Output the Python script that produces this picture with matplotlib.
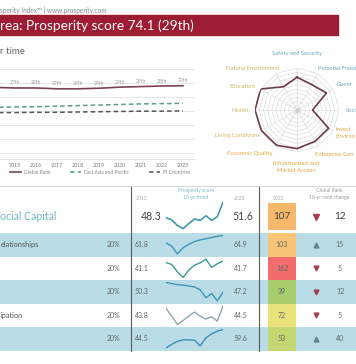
import matplotlib
matplotlib.use('Agg')
import matplotlib.pyplot as plt
import numpy as np
from matplotlib.patches import Rectangle
from matplotlib.colors import LinearSegmentedColormap, Normalize

plt.rcParams['font.family'] = ['Lato', 'DejaVu Sans']

# ---------------- data ----------------
# (texts are shown as they appear in the cropped reference picture)
source_text = "sperity Index\u2122 | www.prosperity.com"
title_text = "rea: Prosperity score 74.1 (29th)"
subtitle_text = "r time"

years = [2014, 2015, 2016, 2017, 2018, 2019, 2020, 2021, 2022, 2023]
year_labels = ["", "2015", "2016", "2017", "2018", "2019", "2020", "2021", "2022", "2023"]
korea_score = [73.5, 73.3, 73.3, 73.0, 73.0, 73.2, 73.6, 73.8, 74.0, 74.1]
korea_rank_labels = ["", "27th", "29th", "29th", "29th", "29th", "29th", "29th", "28th", "29th"]
east_asia = [66.4, 66.5, 66.6, 66.8, 67.0, 67.2, 67.4, 67.6, 67.7, 67.8]
pi_countries = [64.5, 64.5, 64.6, 64.6, 64.7, 64.8, 64.9, 65.0, 65.0, 65.1]
legend_labels = ["Global Rank", "East Asia and Pacific", "PI Countries"]

radar_labels = ["Safety and Security", "Personal Freed", "Gover", "Soci",
                "Invest\nEnviron", "Enterprise Con", "Infrastructure and\nMarket Access",
                "Economic Quality", "Living Conditions", "Health", "Education", "Natural Environment"]
radar_values = [78, 70, 81, 37, 87, 86, 92, 97, 98, 100, 100, 64]

pillar_label = "ocial Capital"
pillar_2013 = 48.3
pillar_2023 = 51.6
pillar_rank = 107
pillar_change = -12
pillar_trend = [48.3, 47.8, 46.6, 45.9, 47.0, 48.0, 47.7, 48.7, 47.7, 48.5, 51.6]

element_labels = ["elationships", "", "", "ipation", ""]
element_weights = ["20%", "20%", "20%", "20%", "20%"]
element_2013 = [61.8, 41.1, 50.3, 43.8, 44.5]
element_2023 = [64.9, 41.7, 47.2, 44.5, 59.6]
element_rank = [103, 162, 39, 72, 53]
element_change = [15, -5, -12, -5, 40]
element_trends = [
    [61.8, 60.5, 57.2, 59.8, 61.2, 62.4, 63.1, 63.6, 64.1, 64.6, 64.9],
    [41.1, 40.3, 37.3, 35.0, 38.0, 40.0, 41.0, 42.5, 39.1, 40.6, 41.7],
    [50.3, 50.0, 49.6, 49.5, 49.2, 48.9, 48.0, 45.4, 46.8, 44.4, 47.2],
    [43.8, 41.5, 39.0, 40.2, 41.5, 42.7, 41.5, 40.6, 41.3, 40.0, 44.5],
    [44.5, 47.4, 49.9, 51.1, 51.1, 50.8, 46.2, 52.8, 56.0, 58.4, 59.6],
]
trend_colors = ['#3f9aa6', '#3e98b5', '#3a9a90', '#3d95b8', '#8aa6aa', '#3d8fb5']

# ---------------- layout helpers ----------------
W, H, DPI = 356, 364, 100
fig = plt.figure(figsize=(W / DPI, H / DPI), dpi=DPI)
fig.patch.set_facecolor('white')


def fx(px):
    return px / W


def fy(py):
    return 1 - py / H


def rect(x0, y0, x1, y1):
    return [fx(x0), fy(y1), (x1 - x0) / W, (y1 - y0) / H]


renderer = fig.canvas.get_renderer()


def fit_width(txt, target_px):
    w = txt.get_window_extent(renderer=renderer).width
    txt.set_fontsize(txt.get_fontsize() * target_px / w)


# header
t0 = fig.text(fx(0.5), fy(10), source_text, ha='left', va='center', fontsize=3.6, color='#8a8a8a')
fit_width(t0, 107)
fig.patches.append(Rectangle((fx(0), fy(35)), fx(338), 20 / H, transform=fig.transFigure,
                             color='#9d1b33', zorder=0))
t1 = fig.text(fx(0.5), fy(25.5), title_text, ha='left', va='center', fontsize=8.6, color='white')
fit_width(t1, 193)
t2 = fig.text(fx(0.5), fy(52), subtitle_text, ha='left', va='center', fontsize=6.5, color='#666666')
fit_width(t2, 25)

# ---------------- line chart ----------------
ax = fig.add_axes(rect(-20, 60, 195, 159))
ax.set_xlim(2013.333, 2023.571)
ax.set_ylim(47.9, 83.3)
ax.set_yticks(np.arange(50, 81, 5))
ax.tick_params(axis='y', length=0, labelleft=False)
ax.grid(axis='y', color='#e4e4e4', lw=0.6)
ax.set_xticks(years)
ax.set_xticklabels(year_labels)
ax.tick_params(axis='x', length=0, labelsize=3.8, labelcolor='#777777', pad=3)
for s in ['left', 'right', 'top']:
    ax.spines[s].set_visible(False)
ax.spines['bottom'].set_color('#dddddd')
ax.spines['bottom'].set_linewidth(0.6)

l1, = ax.plot(years, korea_score, color='#7a4452', lw=1.2)
l2, = ax.plot(years, east_asia, color='#5a9e86', lw=1.1, ls=(0, (3, 2)))
l3, = ax.plot(years, pi_countries, color='#555555', lw=1.1, ls=(0, (3, 2)))
for yr, v, r in zip(years, korea_score, korea_rank_labels):
    if r:
        ax.annotate(r, (yr, v), xytext=(0, 3.6), textcoords='offset points', ha='center',
                    va='center', fontsize=3.6, color='#9a9a9a')
fig.legend([l1, l2, l3], legend_labels, loc='center', bbox_to_anchor=(fx(100), fy(172.5)),
           ncol=3, fontsize=3.6, frameon=False, handlelength=2.2, columnspacing=4.0,
           handletextpad=0.6, labelcolor='#888888')

# ---------------- radar ----------------
axr = fig.add_axes(rect(255, 68, 339, 152), projection='polar')
axr.set_theta_offset(np.pi / 2)
axr.set_theta_direction(-1)
axr.set_ylim(0, 100)
axr.axis('off')
angles = np.arange(len(radar_values)) * 2 * np.pi / len(radar_values)
closed = np.append(angles, angles[0])
for lvl in range(10, 101, 10):
    axr.plot(closed, [lvl] * len(closed), color='#dcdcdc', lw=0.5, zorder=1)
for a in angles:
    axr.plot([a, a], [0, 100], color='#e0e0e0', lw=0.5, zorder=1)
axr.plot(closed, np.append(radar_values, radar_values[0]), color='#6e3a4a', lw=1.2, zorder=3)
axr.plot([0], [0], 'o', ms=2.5, color='#cfcfcf', zorder=2)

blue_lab = '#6aaac2'
orange_lab = '#e3a83e'
olive_lab = '#cdbb62'
radar_label_pos = [
    (297, 53, 'center', blue_lab), (318, 69, 'left', blue_lab), (337, 84, 'left', blue_lab),
    (346, 111, 'left', blue_lab), (336, 133, 'left', orange_lab), (315, 154, 'left', orange_lab),
    (296, 167, 'center', orange_lab), (250, 153, 'center', orange_lab), (260, 136, 'right', olive_lab),
    (249, 111, 'right', olive_lab), (255, 87, 'right', olive_lab), (280, 69, 'right', olive_lab),
]
for lab, (px, py, ha, c) in zip(radar_labels, radar_label_pos):
    fig.text(fx(px), fy(py), lab, ha=ha, va='center', fontsize=4.2, color=c, linespacing=1.4,
             multialignment='center' if ha == 'center' else ha)

# ---------------- table ----------------
axt = fig.add_axes(rect(0, 183, 356, 352))
axt.set_xlim(0, 356)
axt.set_ylim(352, 183)
axt.axis('off')

row_top0, row_h = 233.0, 23.5
cmap = LinearSegmentedColormap.from_list('rank', [
    (0.0, '#7fc06a'), (0.23, '#a8cd6c'), (0.32, '#c5d873'), (0.43, '#ebe37c'),
    (0.62, '#f8c477'), (0.64, '#f7b86c'), (0.97, '#f26d6d'), (1.0, '#f06060')])
norm = Normalize(1, 167)

axt.axhline(185.5, color='#d0d0d0', lw=0.6)
for i in range(len(element_labels)):
    top = row_top0 + i * row_h
    if i % 2 == 0:
        axt.add_patch(Rectangle((0, top), 356, row_h, color='#b9dce6', zorder=0, lw=0))
    axt.add_patch(Rectangle((268, top), 28, row_h, color=cmap(norm(element_rank[i])), zorder=1, lw=0))
axt.add_patch(Rectangle((268, 203), 28, 26.5, color=cmap(norm(pillar_rank)), zorder=1, lw=0))
for xv in (131, 259):
    axt.plot([xv, xv], [187, 351], color='#5a5a5a', lw=0.8, zorder=3)

# header row
hy = 216.5
axt.text(0.5, hy, pillar_label, fontsize=7.6, color='#74b6c9', va='center', ha='left')
axt.text(142, 198, "2013", fontsize=3.6, color='#aaaaaa', ha='center', va='center')
axt.text(162, hy, f"{pillar_2013}", fontsize=7.6, color='#444444', ha='right', va='center')
axt.text(196, 194, "Prosperity score\n10-yr trend", fontsize=3.6, color='#7ab8c8', ha='center',
         va='center', linespacing=1.4)
axt.text(240, 198, "2023", fontsize=3.6, color='#aaaaaa', ha='center', va='center')
axt.text(243, hy, f"{pillar_2023}", fontsize=7.6, color='#444444', ha='center', va='center')
axt.text(279, 198, "2023", fontsize=3.6, color='#aaaaaa', ha='center', va='center')
axt.text(329, 194, "Global Rank\n10-yr rank change", fontsize=3.6, color='#9a9a9a', ha='center',
         va='center', linespacing=1.4)
axt.text(282, hy, f"{pillar_rank}", fontsize=7.2, color='#444444', ha='center', va='center', zorder=4)
axt.plot([316], [hy], marker='^' if pillar_change > 0 else 'v', ms=3.8,
         color='#5f8a8a' if pillar_change > 0 else '#a8404e', zorder=4)
axt.text(340, hy, f"{abs(pillar_change)}", fontsize=7.2, color='#444444', ha='center', va='center')

sp = fig.add_axes(rect(166, 201, 223, 230))
sp.plot(range(len(pillar_trend)), pillar_trend, color=trend_colors[0], lw=1.2)
sp.margins(x=0, y=0.05)
sp.axis('off')

for i, name in enumerate(element_labels):
    top = row_top0 + i * row_h
    cy = top + row_h / 2
    if name:
        axt.text(0.5, cy, name, fontsize=5.3, color='#555555', ha='left', va='center', zorder=4)
    axt.text(120, cy, element_weights[i], fontsize=5.0, color='#666666', ha='right', va='center')
    axt.text(142, cy, f"{element_2013[i]}", fontsize=5.0, color='#666666', ha='center', va='center')
    axt.text(241, cy, f"{element_2023[i]}", fontsize=5.0, color='#666666', ha='center', va='center')
    axt.text(282, cy, f"{element_rank[i]}", fontsize=5.0, color='#666666', ha='center', va='center',
             zorder=4)
    up = element_change[i] > 0
    axt.plot([316], [cy], marker='^' if up else 'v', ms=3.5,
             color='#5f8a8a' if up else '#a8404e', zorder=4)
    axt.text(340, cy, f"{abs(element_change[i])}", fontsize=5.0, color='#666666', ha='center',
             va='center')
    spx = fig.add_axes(rect(166, top + 1.5, 223, top + row_h - 1.5))
    spx.plot(range(len(element_trends[i])), element_trends[i], color=trend_colors[i + 1], lw=1.0)
    spx.margins(x=0, y=0.06)
    spx.axis('off')

fig.savefig('out.png', dpi=DPI, facecolor='white')
